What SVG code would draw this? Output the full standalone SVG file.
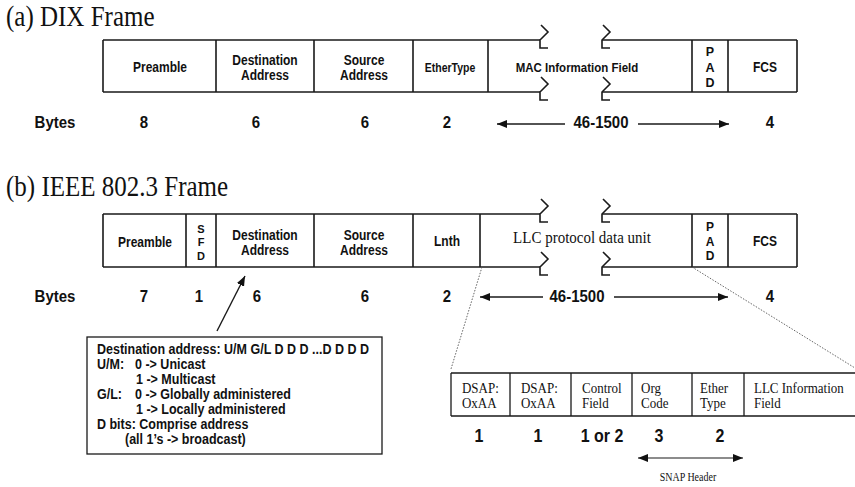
<svg xmlns="http://www.w3.org/2000/svg" width="855" height="487" viewBox="0 0 855 487">
<defs>
<style>
text{transform-box:fill-box;transform-origin:50% 80%;transform:scaleY(1.15)}
text.ns{transform:none}
.ln{stroke:#1a1a1a;stroke-width:1.6;fill:none}
.zz{stroke:#1a1a1a;stroke-width:1.6;fill:none;stroke-linejoin:miter}
.dot{stroke:#555;stroke-width:0.9;stroke-dasharray:1.5,1.5;fill:none}
.ttl{font-family:"Liberation Serif","Times New Roman",serif;font-size:25px;fill:#111}
.lb{font-family:"Liberation Sans",Arial,sans-serif;font-weight:bold;font-size:12px;fill:#111;text-anchor:middle}
.by{font-family:"Liberation Sans",Arial,sans-serif;font-weight:bold;font-size:15px;fill:#111;text-anchor:middle}
.inf{font-family:"Liberation Sans",Arial,sans-serif;font-weight:bold;font-size:12.5px;fill:#111}
.sr{font-family:"Liberation Serif","Times New Roman",serif;font-size:13px;fill:#111}
.nm{font-family:"Liberation Sans",Arial,sans-serif;font-weight:bold;font-size:16px;fill:#111;text-anchor:middle}
</style>
<marker id="ah" viewBox="0 0 10 8" refX="10" refY="4" markerWidth="10" markerHeight="8" markerUnits="userSpaceOnUse" orient="auto-start-reverse">
<path d="M0,0 L10,4 L0,8 Z" fill="#111"/>
</marker>
</defs>
<rect width="855" height="487" fill="#fff"/>

<text class="ttl" x="6" y="26">(a) DIX Frame</text>
<text class="ttl" x="6" y="196">(b) IEEE 802.3 Frame</text>

<!-- DIX frame -->
<g id="dix-frame">
<path class="ln" d="M103,40 H540 M602,40 H797 M103,92 H540 M602,92 H797 M103,40 V92 M216,40 V92 M314,40 V92 M413,40 V92 M488,40 V92 M692,40 V92 M728,40 V92 M797,40 V92"/>
<polyline class="zz" points="541,25 548,32 540,40 540,48 548,48"/>
<polyline class="zz" points="603,25 610,32 602,40 602,48 610,48"/>
<polyline class="zz" points="541,77 548,84 540,92 540,100 548,100"/>
<polyline class="zz" points="603,77 610,84 602,92 602,100 610,100"/>
</g>
<g id="dix-preamble"><text class="lb" x="160" y="72">Preamble</text></g>
<g id="dix-dest"><text class="lb" x="265" y="65">Destination</text><text class="lb" x="265" y="80">Address</text></g>
<g id="dix-src"><text class="lb" x="364" y="65">Source</text><text class="lb" x="364" y="80">Address</text></g>
<g id="dix-ethertype"><text class="lb" x="450" y="72" style="font-size:10.5px">EtherType</text></g>
<g id="dix-mac"><text class="lb" x="577" y="72" style="font-size:11.5px">MAC Information Field</text></g>
<g id="dix-pad"><text class="lb ns" x="710" y="56" style="font-size:12.5px">P</text><text class="lb ns" x="710" y="72" style="font-size:12.5px">A</text><text class="lb ns" x="710" y="87" style="font-size:12.5px">D</text></g>
<g id="dix-fcs"><text class="lb" x="765" y="72">FCS</text></g>

<g id="dix-bytes">
<text class="by" x="55" y="128">Bytes</text>
<text class="by" x="144" y="128">8</text>
<text class="by" x="256" y="128">6</text>
<text class="by" x="365" y="128">6</text>
<text class="by" x="447" y="128">2</text>
<text class="by" x="601" y="128">46-1500</text>
<text class="by" x="770" y="128">4</text>
</g>

<!-- 802.3 frame -->
<g id="ieee-frame">
<path class="ln" d="M103,214 H540 M602,214 H797 M103,267 H540 M602,267 H797 M103,214 V267 M186,214 V267 M216,214 V267 M314,214 V267 M413,214 V267 M480,214 V267 M692,214 V267 M728,214 V267 M797,214 V267"/>
<polyline class="zz" points="541,199 548,206 540,214 540,222 548,222"/>
<polyline class="zz" points="603,199 610,206 602,214 602,222 610,222"/>
<polyline class="zz" points="541,252 548,259 540,267 540,275 548,275"/>
<polyline class="zz" points="603,252 610,259 602,267 602,275 610,275"/>
</g>
<g id="ieee-preamble"><text class="lb" x="145" y="247">Preamble</text></g>
<g id="ieee-sfd"><text class="lb ns" x="201" y="233" style="font-size:11px">S</text><text class="lb ns" x="201" y="246" style="font-size:11px">F</text><text class="lb ns" x="201" y="260" style="font-size:11px">D</text></g>
<g id="ieee-dest"><text class="lb" x="265" y="240">Destination</text><text class="lb" x="265" y="255">Address</text></g>
<g id="ieee-src"><text class="lb" x="364" y="240">Source</text><text class="lb" x="364" y="255">Address</text></g>
<g id="ieee-lnth"><text class="lb" x="447" y="246">Lnth</text></g>
<g id="ieee-llc"><text class="sr" x="582" y="243" style="font-size:15px;text-anchor:middle">LLC protocol data unit</text></g>
<g id="ieee-pad"><text class="lb ns" x="710" y="231">P</text><text class="lb ns" x="710" y="246">A</text><text class="lb ns" x="710" y="260">D</text></g>
<g id="ieee-fcs"><text class="lb" x="765" y="246">FCS</text></g>

<g id="ieee-bytes">
<text class="by" x="55" y="302">Bytes</text>
<text class="by" x="144" y="302">7</text>
<text class="by" x="199" y="302">1</text>
<text class="by" x="257" y="302">6</text>
<text class="by" x="365" y="302">6</text>
<text class="by" x="447" y="302">2</text>
<text class="by" x="577" y="302">46-1500</text>
<text class="by" x="770" y="302">4</text>
</g>

<!-- address info box -->
<g id="addr-info">
<rect x="87" y="337" width="295" height="117" class="ln" style="stroke-width:1.3"/>
<text class="inf" x="97" y="354">Destination address: U/M G/L D D D ...D D D D</text>
<text class="inf" x="97" y="369">U/M:</text><text class="inf" x="135" y="369">0 -&gt; Unicast</text>
<text class="inf" x="136" y="384">1 -&gt; Multicast</text>
<text class="inf" x="97" y="399">G/L:</text><text class="inf" x="135" y="399">0 -&gt; Globally administered</text>
<text class="inf" x="136" y="414">1 -&gt; Locally administered</text>
<text class="inf" x="97" y="429">D bits: Comprise address</text>
<text class="inf" x="125" y="444">(all 1’s -&gt; broadcast)</text>
</g>

<!-- SNAP table -->
<g id="snap-table">
<path class="ln" style="stroke-width:1.3" d="M451,373 H855 M451,416 H855 M451,373 V416 M510,373 V416 M571,373 V416 M632,373 V416 M692,373 V416 M744,373 V416"/>
<text class="sr" x="462" y="393">DSAP:</text><text class="sr" x="462" y="408">OxAA</text>
<text class="sr" x="521" y="393">DSAP:</text><text class="sr" x="521" y="408">OxAA</text>
<text class="sr" x="582" y="393">Control</text><text class="sr" x="582" y="408">Field</text>
<text class="sr" x="641" y="393">Org</text><text class="sr" x="641" y="408">Code</text>
<text class="sr" x="700" y="393">Ether</text><text class="sr" x="700" y="408">Type</text>
<text class="sr" x="754" y="393">LLC Information</text><text class="sr" x="754" y="408">Field</text>
<text class="nm" x="479" y="442">1</text>
<text class="nm" x="538" y="442">1</text>
<text class="nm" x="602" y="442">1 or 2</text>
<text class="nm" x="659" y="442">3</text>
<text class="nm" x="720" y="442">2</text>
<text class="sr" x="688" y="481" style="font-size:10px;text-anchor:middle">SNAP Header</text>
</g>

<!-- connectors -->
<g id="connectors">
<path class="ln" style="stroke-width:1.4" d="M565,124 H497" marker-end="url(#ah)"/>
<path class="ln" style="stroke-width:1.4" d="M638,124 H729" marker-end="url(#ah)"/>
<path class="ln" style="stroke-width:1.4" d="M543,297 H480" marker-end="url(#ah)"/>
<path class="ln" style="stroke-width:1.4" d="M614,297 H728" marker-end="url(#ah)"/>
<path class="ln" style="stroke-width:1.4" d="M217,331 L245,276" marker-end="url(#ah)"/>
<path class="ln" style="stroke-width:1.2" d="M638,458 H743" marker-start="url(#ah)" marker-end="url(#ah)"/>
<path class="dot" d="M482,267 L451,369"/>
<path class="dot" d="M692,267 L855,368"/>
</g>
</svg>
